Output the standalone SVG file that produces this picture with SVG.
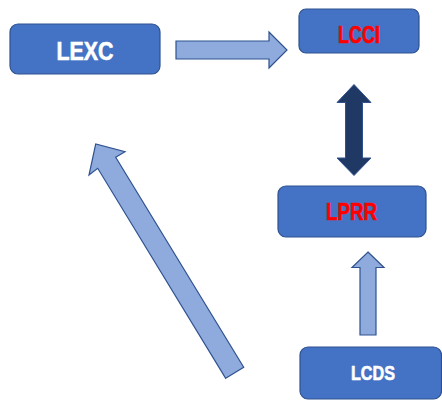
<svg xmlns="http://www.w3.org/2000/svg" width="442" height="400" viewBox="0 0 442 400">
<style>
.box{fill:#4472C4;stroke:#2F528F;stroke-width:1.2}
.lbl{font-family:"Liberation Sans",Arial,sans-serif;font-weight:bold;text-anchor:middle;dominant-baseline:central;stroke-width:0.6}
.w{fill:#FFFFFF;stroke:#FFFFFF}
.r{fill:#FF0000;stroke:#FF0000}
.la{fill:#8FAADC;stroke:#2F528F;stroke-width:1.2;stroke-linejoin:miter}
.da{fill:#203864;stroke:#2F528F;stroke-width:1}
</style>
<rect width="442" height="400" fill="#FFFFFF"/>
<g id="connectors">
<polygon class="la" points="176,41 269,41 269,32 287,50 269,68 269,59 176,59"/>
<polygon class="da" points="354,84.5 371,102.5 362.5,102.5 362.5,158 371,158 354,175.5 337,158 345.5,158 345.5,102.5 337,102.5"/>
<polygon class="la" points="368,252 384,267.5 376,267.5 376,335 360,335 360,267.5 352,267.5"/>
<polygon class="la" points="225.7,378.3 243.7,367.3 115.7,157.3 125,151.7 95.7,144 89,175 97.7,168.3"/>
</g>
<g id="LEXC">
<rect class="box" x="10" y="24" width="150" height="50" rx="8"/>
<text class="lbl w" x="85" y="51" font-size="26" textLength="57" lengthAdjust="spacingAndGlyphs">LEXC</text>
</g>
<g id="LCCI">
<rect class="box" x="299" y="9" width="120" height="44" rx="7"/>
<text class="lbl r" x="359" y="35" font-size="23" textLength="42" lengthAdjust="spacingAndGlyphs">LCCI</text>
</g>
<g id="LPRR">
<rect class="box" x="278" y="186" width="148" height="51" rx="8"/>
<text class="lbl r" x="351.5" y="211.5" font-size="23" textLength="51" lengthAdjust="spacingAndGlyphs">LPRR</text>
</g>
<g id="LCDS">
<rect class="box" x="300" y="347" width="141.5" height="52" rx="8"/>
<text class="lbl w" x="373" y="372.5" font-size="21" textLength="44" lengthAdjust="spacingAndGlyphs">LCDS</text>
</g>
</svg>
